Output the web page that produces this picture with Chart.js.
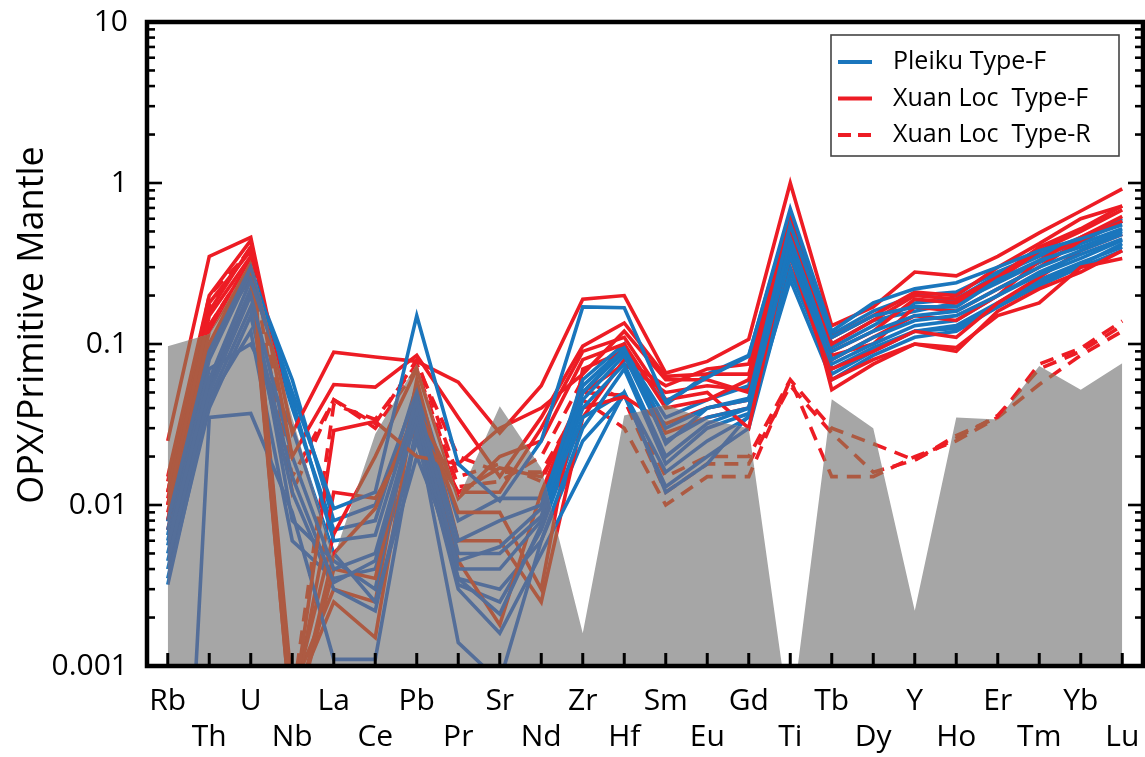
<!DOCTYPE html>
<html><head><meta charset="utf-8">
<script src="https://cdn.jsdelivr.net/npm/chart.js@4.4.1/dist/chart.umd.min.js"></script>
<style>html,body{margin:0;padding:0;background:#fff}#wrap{width:1145px;height:757px}</style>
</head><body><div id="wrap"><canvas id="c" width="1145" height="757"></canvas></div>
<script>
const categories = ['Rb','Th','U','Nb','La','Ce','Pb','Pr','Sr','Nd','Zr','Hf','Sm','Eu','Gd','Ti','Tb','Dy','Y','Ho','Er','Tm','Yb','Lu'];
const yTickValues = [0.001, 0.01, 0.1, 1, 10];
const yTickLabels = ['0.001', '0.01', '0.1', '1', '10'];
const legendLabels = ['Pleiku Type-F', 'Xuan Loc  Type-F', 'Xuan Loc  Type-R'];
const yTitle = 'OPX/Primitive Mantle';

// grey reference field (upper envelope)
const greyField = [0.097,0.115,0.33,0.035,0.0047,0.0276,0.075,0.011,0.041,0.017,0.0016,0.036,0.042,0.034,0.03,0.00043,0.0454,0.03,0.0022,0.035,0.034,0.073,0.052,0.076];

// Pleiku Type-F
const pleikuF = [
 [0.0079,0.09,0.3,0.05,0.0095,0.012,0.15,0.018,0.0106,0.025,0.17,0.168,0.044,0.062,0.084,0.69,0.12,0.18,0.22,0.24,0.3,0.38,0.45,0.55],
 [0.0056,0.06,0.25,0.045,0.006,0.0065,0.045,0.005,0.005,0.0085,0.05,0.094,0.03,0.04,0.046,0.55,0.11,0.15,0.17,0.17,0.25,0.33,0.4,0.5],
 [0.0045,0.05,0.2,0.02,0.004,0.005,0.04,0.004,0.004,0.008,0.045,0.085,0.025,0.035,0.04,0.45,0.09,0.12,0.15,0.16,0.22,0.3,0.38,0.48],
 [0.0032,0.045,0.17,0.015,0.0033,0.0045,0.035,0.0035,0.0021,0.0075,0.04,0.075,0.02,0.032,0.04,0.4,0.08,0.11,0.14,0.15,0.2,0.28,0.36,0.45],
 [0.0000005,0.035,0.037,0.009,0.0011,0.0011,0.03,0.0014,0.0008,0.006,0.03,0.07,0.018,0.03,0.037,0.35,0.075,0.1,0.13,0.14,0.2,0.27,0.34,0.44],
 [0.006,0.07,0.1,0.03,0.005,0.0025,0.02,0.0045,0.0055,0.0095,0.06,0.1,0.024,0.04,0.045,0.5,0.1,0.14,0.16,0.18,0.24,0.32,0.42,0.52],
 [0.007,0.08,0.28,0.06,0.008,0.01,0.05,0.006,0.008,0.01,0.05,0.09,0.035,0.045,0.055,0.6,0.095,0.13,0.18,0.19,0.27,0.35,0.43,0.58],
 [0.0035,0.04,0.15,0.012,0.003,0.0022,0.03,0.003,0.0016,0.005,0.016,0.05,0.012,0.018,0.036,0.3,0.065,0.09,0.12,0.13,0.18,0.25,0.32,0.4],
 [0.005,0.055,0.22,0.008,0.0045,0.003,0.05,0.0032,0.0025,0.007,0.035,0.05,0.016,0.025,0.035,0.25,0.06,0.085,0.11,0.12,0.17,0.23,0.3,0.38],
 [0.0065,0.1,0.26,0.04,0.007,0.008,0.055,0.008,0.011,0.011,0.055,0.095,0.042,0.065,0.085,0.65,0.115,0.16,0.2,0.21,0.28,0.36,0.46,0.6],
 [0.004,0.045,0.12,0.006,0.0035,0.004,0.025,0.0035,0.003,0.006,0.025,0.048,0.013,0.02,0.03,0.28,0.07,0.095,0.12,0.125,0.17,0.24,0.31,0.42]
];

// Xuan Loc Type-F
const xuanLocF = [
 [0.025,0.35,0.46,0.028,0.089,0.083,0.078,0.058,0.028,0.055,0.19,0.2,0.066,0.078,0.107,1.0,0.13,0.17,0.28,0.265,0.35,0.49,0.67,0.92],
 [0.015,0.2,0.44,0.02,0.056,0.054,0.085,0.035,0.015,0.035,0.097,0.135,0.063,0.065,0.065,0.56,0.1,0.14,0.2,0.19,0.26,0.4,0.52,0.72],
 [0.01,0.15,0.35,0.0005,0.029,0.033,0.02,0.018,0.03,0.04,0.065,0.12,0.06,0.06,0.05,0.5,0.09,0.12,0.19,0.18,0.25,0.38,0.5,0.68],
 [0.008,0.12,0.3,0.0004,0.005,0.0095,0.04,0.012,0.012,0.03,0.09,0.11,0.045,0.05,0.03,0.45,0.08,0.11,0.15,0.14,0.2,0.33,0.46,0.62],
 [0.012,0.18,0.38,0.0006,0.0066,0.02,0.07,0.011,0.02,0.025,0.08,0.1,0.04,0.045,0.06,0.6,0.085,0.1,0.17,0.16,0.22,0.3,0.44,0.58],
 [0.009,0.1,0.32,0.0005,0.012,0.011,0.03,0.012,0.017,0.015,0.04,0.047,0.032,0.04,0.045,0.4,0.07,0.09,0.12,0.11,0.18,0.26,0.38,0.48],
 [0.007,0.09,0.28,0.0004,0.004,0.0035,0.045,0.009,0.009,0.003,0.07,0.09,0.028,0.035,0.04,0.35,0.06,0.08,0.1,0.095,0.15,0.18,0.3,0.34],
 [0.011,0.13,0.33,0.0006,0.0025,0.0015,0.05,0.0045,0.0018,0.012,0.05,0.075,0.05,0.055,0.052,0.52,0.052,0.075,0.1,0.09,0.16,0.22,0.28,0.38],
 [0.014,0.16,0.4,0.0007,0.003,0.0025,0.06,0.006,0.006,0.0025,0.035,0.08,0.055,0.07,0.075,0.55,0.11,0.15,0.21,0.2,0.3,0.42,0.6,0.72]
];

// Xuan Loc Type-R
const xuanLocR = [
 [0.01,0.13,0.33,0.012,0.045,0.032,0.08,0.015,0.018,0.014,0.05,0.048,0.015,0.02,0.02,0.06,0.03,0.024,0.019,0.027,0.035,0.075,0.094,0.139],
 [0.008,0.17,0.4,0.0006,0.042,0.034,0.075,0.02,0.016,0.016,0.045,0.03,0.01,0.015,0.015,0.06,0.015,0.015,0.02,0.025,0.035,0.056,0.085,0.12],
 [0.012,0.2,0.38,0.015,0.045,0.03,0.07,0.013,0.014,0.02,0.06,0.045,0.012,0.018,0.018,0.055,0.028,0.016,0.019,0.026,0.036,0.07,0.09,0.13]
];

const BLUE = '#1a76bd', RED = '#ed1c24', SLATE = '#546e99', BROWN = '#ad5a42', GREY = '#a6a6a6';
const FONT = '"Open Sans", "DejaVu Sans", sans-serif';

function lineSet(a, color, muted, dash) {
  return { data: a, borderColor: color, muted: muted, borderDash: dash, borderWidth: 3.6, pointRadius: 0, fill: false, order: 1 };
}
const datasets = [];
datasets.push({ label: 'grey', data: greyField, order: 0, fill: 'start', backgroundColor: GREY, borderWidth: 0, pointRadius: 0, tension: 0 });
const nMax = Math.max(pleikuF.length, xuanLocF.length);
for (let i = 0; i < nMax; i++) {
  if (i < pleikuF.length) datasets.push(lineSet(pleikuF[i], BLUE, SLATE, []));
  if (i < xuanLocF.length) datasets.push(lineSet(xuanLocF[i], RED, BROWN, []));
}
xuanLocR.forEach(a => datasets.push(lineSet(a, RED, BROWN, [14, 9])));

const mutedPlugin = {
  id: 'muted',
  afterDatasetsDraw(chart) {
    const ctx = chart.ctx, a = chart.chartArea;
    const g = chart.getDatasetMeta(0).data;
    ctx.save();
    ctx.beginPath();
    ctx.rect(a.left, a.top, a.right - a.left, a.bottom - a.top);
    ctx.clip();
    ctx.beginPath();
    ctx.moveTo(g[0].x, a.bottom + 20);
    g.forEach(p => ctx.lineTo(p.x, p.y));
    ctx.lineTo(g[g.length - 1].x, a.bottom + 20);
    ctx.closePath();
    ctx.clip();
    const idx = chart.data.datasets.map((d, i) => i).filter(i => chart.data.datasets[i].muted);
    idx.sort((x, y) => chart.data.datasets[y].order - chart.data.datasets[x].order || y - x);
    idx.forEach(i => {
      const ds = chart.data.datasets[i];
      const pts = chart.getDatasetMeta(i).data;
      ctx.beginPath();
      pts.forEach((p, j) => j ? ctx.lineTo(p.x, p.y) : ctx.moveTo(p.x, p.y));
      ctx.strokeStyle = ds.muted;
      ctx.lineWidth = ds.borderWidth;
      ctx.lineJoin = 'miter';
      ctx.lineCap = 'butt';
      ctx.setLineDash(ds.borderDash || []);
      ctx.stroke();
    });
    ctx.restore();
  }
};

const framePlugin = {
  id: 'frame',
  afterDraw(chart) {
    const ctx = chart.ctx, a = chart.chartArea;
    const ys = chart.scales.y, xs = chart.scales.x;
    ctx.save();
    ctx.strokeStyle = '#000';
    ctx.setLineDash([]);
    ctx.lineWidth = 2.6;
    for (let e = -3; e < 1; e++) {
      for (let m = 1; m <= 9; m++) {
        const v = m * Math.pow(10, e);
        const y = ys.getPixelForValue(v);
        const len = m === 1 ? 15 : 8;
        ctx.beginPath(); ctx.moveTo(a.left, y); ctx.lineTo(a.left + len, y); ctx.stroke();
        ctx.beginPath(); ctx.moveTo(a.right, y); ctx.lineTo(a.right - len, y); ctx.stroke();
      }
    }
    ctx.lineWidth = 3;
    categories.forEach((c, i) => {
      const x = xs.getPixelForValue(i);
      ctx.beginPath(); ctx.moveTo(x, a.bottom); ctx.lineTo(x, a.bottom - 13); ctx.stroke();
    });
    ctx.lineWidth = 4.5;
    ctx.strokeRect(a.left, a.top, a.right - a.left, a.bottom - a.top);
    ctx.fillStyle = '#000';
    ctx.font = '36px ' + FONT;
    ctx.translate(43, (a.top + a.bottom) / 2 - 19);
    ctx.rotate(-Math.PI / 2);
    ctx.textAlign = 'center';
    ctx.textBaseline = 'alphabetic';
    ctx.fillText(yTitle, 0, 0);
    ctx.restore();

    ctx.save();
    const bx = a.right - 312, by = a.top + 13, bw = 288, bh = 121;
    ctx.fillStyle = '#fff';
    ctx.fillRect(bx, by, bw, bh);
    ctx.strokeStyle = '#444';
    ctx.lineWidth = 1.6;
    ctx.strokeRect(bx, by, bw, bh);
    const cols = [BLUE, RED, RED];
    const dashes = [[], [], [13, 7]];
    legendLabels.forEach((t, k) => {
      const y = by + 27 + k * 36.5;
      ctx.beginPath();
      ctx.setLineDash(dashes[k]);
      ctx.strokeStyle = cols[k];
      ctx.lineWidth = 4;
      ctx.moveTo(bx + 7, y); ctx.lineTo(bx + 41, y); ctx.stroke();
      ctx.setLineDash([]);
      ctx.fillStyle = '#000';
      ctx.font = '25px ' + FONT;
      ctx.textAlign = 'left';
      ctx.textBaseline = 'middle';
      ctx.fillText(t, bx + 62, y);
    });
    ctx.restore();
  }
};

new Chart(document.getElementById('c'), {
  type: 'line',
  data: { labels: categories, datasets },
  options: {
    responsive: false,
    animation: false,
    devicePixelRatio: 1,
    layout: { padding: { top: 22, right: 2, left: 0, bottom: 0 } },
    plugins: { legend: { display: false }, tooltip: { enabled: false } },
    elements: { line: { tension: 0, borderJoinStyle: 'miter' }, point: { radius: 0 } },
    scales: {
      x: {
        type: 'category',
        offset: true,
        grid: { display: false, drawTicks: false },
        border: { display: false },
        ticks: {
          autoSkip: false, maxRotation: 0, minRotation: 0, padding: 17,
          color: '#000', font: { family: FONT, size: 30, lineHeight: 1.2 },
          callback: function (v, i) { const l = categories[i]; return i % 2 === 0 ? l : ['', l]; }
        },
        afterFit: s => { s.height = 91; s.paddingLeft = 0; s.paddingRight = 0; }
      },
      y: {
        type: 'logarithmic',
        min: 0.001, max: 10,
        grid: { display: false, drawTicks: false },
        border: { display: false },
        afterBuildTicks: s => { s.ticks = yTickValues.map(v => ({ value: v })); },
        ticks: {
          padding: 19, color: '#000', font: { family: FONT, size: 30 },
          callback: function (v) {
            const k = yTickValues.findIndex(t => Math.abs(Math.log10(t) - Math.log10(v)) < 1e-6);
            return k >= 0 ? yTickLabels[k] : '';
          }
        },
        afterFit: s => { s.width = 147; s.paddingTop = 0; s.paddingBottom = 0; }
      }
    }
  },
  plugins: [mutedPlugin, framePlugin]
});
</script>
</body></html>
